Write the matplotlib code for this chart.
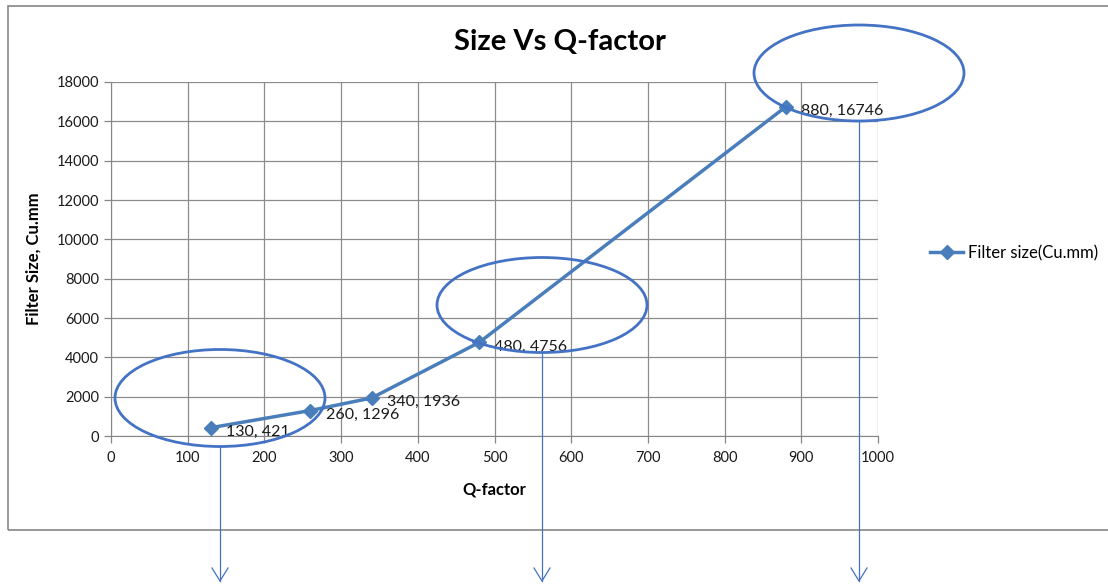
import matplotlib.pyplot as plt
from matplotlib.patches import Ellipse, Rectangle
from matplotlib.lines import Line2D

# --- Datos ---
q_factor = [130, 260, 340, 480, 880]
filter_size = [421, 1296, 1936, 4756, 16746]
serie = "Filter size(Cu.mm)"
x_ticks = list(range(0, 1001, 100))
y_ticks = list(range(0, 18001, 2000))
# -------------

W, H = 1108, 584
plt.rcParams['font.family'] = ['Lato', 'DejaVu Sans']

fig = plt.figure(figsize=(W / 100, H / 100), dpi=100)


def fx(px):
    return px / W


def fy(py):
    return 1 - py / H


# marco del gráfico
fig.patches.append(Rectangle((fx(8), fy(530)), fx(1110) - fx(8), fy(6) - fy(530),
                             transform=fig.transFigure, fill=False,
                             edgecolor="#868686", linewidth=1.2))

ax = fig.add_axes([fx(111), fy(436), fx(878) - fx(111), fy(82) - fy(436)])
ax.plot(q_factor, filter_size, color="#4A7EBB", linewidth=2.5,
        marker="D", markersize=7, label=serie, zorder=3)

for x, y in zip(q_factor, filter_size):
    ax.annotate(f"{x}, {y}", (x, y), xytext=(11, -3), textcoords="offset points",
                ha="left", va="center", fontsize=11.5, color="#1a1a1a")

ax.set_xlim(0, 1000)
ax.set_ylim(0, 18000)
ax.set_xticks(x_ticks)
ax.set_yticks(y_ticks)
ax.grid(True, color="#8c8c8c", linewidth=0.9)
ax.set_axisbelow(True)
for s in ["top", "right"]:
    ax.spines[s].set_visible(False)
for s in ["left", "bottom"]:
    ax.spines[s].set_color("#868686")
ax.tick_params(axis="both", labelsize=10.5, colors="#868686", labelcolor="#1a1a1a",
               length=5, width=0.9)
ax.tick_params(axis="x", pad=6)

ax.set_xlabel("Q-factor", fontsize=12, fontweight="bold", labelpad=12)
ax.set_ylabel("Filter Size, Cu.mm", fontsize=12, fontweight="bold", labelpad=11)
fig.text(fx(560), fy(42), "Size Vs Q-factor", fontsize=21, fontweight="bold",
         ha="center", va="center")

ax.legend(loc="center left", frameon=False, fontsize=12, handlelength=2.0,
          handletextpad=0.25, borderaxespad=0, borderpad=0)
ax.get_legend().set_bbox_to_anchor((fx(930), fy(253)), transform=fig.transFigure)

# elipses y flechas (anotaciones)
ellipses = [(220, 398, 210, 97), (542, 305, 210, 95), (859, 73, 210, 96)]
for cx, cy, w, h in ellipses:
    fig.patches.append(Ellipse((fx(cx), fy(cy)), fx(w), h / H,
                               transform=fig.transFigure, fill=False,
                               edgecolor="#4472C4", linewidth=2))
    y_top = cy + h / 2
    y_end = 581
    fig.lines.append(Line2D([fx(cx), fx(cx)], [fy(y_top), fy(y_end)],
                            transform=fig.transFigure, color="#4472C4", linewidth=0.9))
    fig.lines.append(Line2D([fx(cx - 8), fx(cx), fx(cx + 8)], [fy(y_end - 13), fy(y_end), fy(y_end - 13)],
                            transform=fig.transFigure, color="#4472C4", linewidth=0.9))

fig.savefig("out.png", dpi=100)
